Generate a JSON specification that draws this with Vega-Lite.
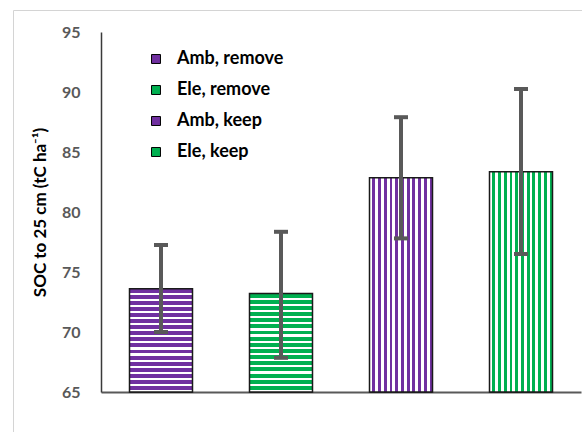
{
  "$schema": "https://vega.github.io/schema/vega-lite/v6.json",
  "width": 575,
  "height": 428,
  "autosize": "none",
  "padding": {"left": 13, "top": 10, "right": -6, "bottom": -6},
  "background": "#ffffff",
  "config": {
    "view": {"stroke": "#d4d4d4", "strokeWidth": 1},
    "font": "Lato"
  },
  "data": {
    "values": [
      {"group": "Amb, remove", "soc": 73.6, "lo": 70.0, "hi": 77.25},
      {"group": "Ele, remove", "soc": 73.2, "lo": 67.85, "hi": 78.35},
      {"group": "Amb, keep", "soc": 82.85, "lo": 77.8, "hi": 87.9},
      {"group": "Ele, keep", "soc": 83.35, "lo": 76.5, "hi": 90.25}
    ]
  },
  "encoding": {
    "x": {
      "field": "group",
      "type": "nominal",
      "sort": ["Amb, remove", "Ele, remove", "Amb, keep", "Ele, keep"],
      "scale": {"range": [88, 568], "paddingInner": 0.475, "paddingOuter": 0.2375},
      "axis": {
        "title": null,
        "labels": false,
        "ticks": false,
        "offset": -46,
        "domainColor": "#595959",
        "domainWidth": 2
      }
    }
  },
  "layer": [
    {
      "mark": {"type": "bar", "stroke": "#000000", "strokeWidth": 1},
      "encoding": {
        "y": {
          "field": "soc",
          "type": "quantitative",
          "scale": {"domain": [65, 95], "range": [382, 22], "nice": false, "zero": false},
          "axis": {
            "title": "SOC to 25 cm (tC ha⁻¹)",
            "titleFont": "Lato",
            "titleFontSize": 17,
            "titleFontWeight": "bold",
            "titleColor": "#000000",
            "titleX": -61,
            "titleY": 202,
            "titleAngle": -90,
            "titleAlign": "center",
            "titleBaseline": "middle",
            "offset": -88,
            "values": [65, 70, 75, 80, 85, 90, 95],
            "grid": false,
            "ticks": false,
            "tickSize": 0,
            "labelPadding": 21,
            "labelFont": "Lato",
            "labelFontSize": 16,
            "labelFontWeight": "bold",
            "labelColor": "#595959",
            "domainColor": "#3a3a3a",
            "domainWidth": 1.5
          }
        },
        "y2": {"datum": 65},
        "color": {
          "field": "group",
          "type": "nominal",
          "sort": ["Amb, remove", "Ele, remove", "Amb, keep", "Ele, keep"],
          "scale": {
            "domain": ["Amb, remove", "Ele, remove", "Amb, keep", "Ele, keep"],
            "range": ["#7030a0", "#00b050", "#7030a0", "#00b050"]
          },
          "legend": {
            "title": null,
            "orient": "none",
            "legendX": 134,
            "legendY": 40,
            "padding": 0,
            "rowPadding": 13,
            "symbolType": "square",
            "symbolSize": 80,
            "symbolOpacity": 1,
            "symbolStrokeColor": "#000000",
            "symbolStrokeWidth": 1,
            "labelFont": "Lato",
            "labelFontSize": 18,
            "labelFontWeight": "bold",
            "labelColor": "#000000",
            "labelOffset": 12
          }
        }
      }
    },
    {
      "mark": {"type": "bar", "stroke": "#1a1a1a", "strokeWidth": 1.5},
      "encoding": {
        "y": {"field": "soc", "type": "quantitative"},
        "y2": {"datum": 65},
        "fill": {
          "condition": [
            {"test": "datum.group === 'Amb, remove'", "value": {"gradient": "linear", "x1": 0, "y1": 0, "x2": 0, "y2": 1, "stops": [
              {"offset": 0, "color": "#7030a0"}, {"offset": 0.0382, "color": "#7030a0"}, {"offset": 0.0382, "color": "#ffffff"}, {"offset": 0.0588, "color": "#ffffff"},
              {"offset": 0.0588, "color": "#7030a0"}, {"offset": 0.0971, "color": "#7030a0"}, {"offset": 0.0971, "color": "#ffffff"}, {"offset": 0.1176, "color": "#ffffff"},
              {"offset": 0.1176, "color": "#7030a0"}, {"offset": 0.1559, "color": "#7030a0"}, {"offset": 0.1559, "color": "#ffffff"}, {"offset": 0.1765, "color": "#ffffff"},
              {"offset": 0.1765, "color": "#7030a0"}, {"offset": 0.2147, "color": "#7030a0"}, {"offset": 0.2147, "color": "#ffffff"}, {"offset": 0.2353, "color": "#ffffff"},
              {"offset": 0.2353, "color": "#7030a0"}, {"offset": 0.2735, "color": "#7030a0"}, {"offset": 0.2735, "color": "#ffffff"}, {"offset": 0.2941, "color": "#ffffff"},
              {"offset": 0.2941, "color": "#7030a0"}, {"offset": 0.3324, "color": "#7030a0"}, {"offset": 0.3324, "color": "#ffffff"}, {"offset": 0.3529, "color": "#ffffff"},
              {"offset": 0.3529, "color": "#7030a0"}, {"offset": 0.3912, "color": "#7030a0"}, {"offset": 0.3912, "color": "#ffffff"}, {"offset": 0.4118, "color": "#ffffff"},
              {"offset": 0.4118, "color": "#7030a0"}, {"offset": 0.45, "color": "#7030a0"}, {"offset": 0.45, "color": "#ffffff"}, {"offset": 0.4706, "color": "#ffffff"},
              {"offset": 0.4706, "color": "#7030a0"}, {"offset": 0.5088, "color": "#7030a0"}, {"offset": 0.5088, "color": "#ffffff"}, {"offset": 0.5294, "color": "#ffffff"},
              {"offset": 0.5294, "color": "#7030a0"}, {"offset": 0.5676, "color": "#7030a0"}, {"offset": 0.5676, "color": "#ffffff"}, {"offset": 0.5882, "color": "#ffffff"},
              {"offset": 0.5882, "color": "#7030a0"}, {"offset": 0.6265, "color": "#7030a0"}, {"offset": 0.6265, "color": "#ffffff"}, {"offset": 0.6471, "color": "#ffffff"},
              {"offset": 0.6471, "color": "#7030a0"}, {"offset": 0.6853, "color": "#7030a0"}, {"offset": 0.6853, "color": "#ffffff"}, {"offset": 0.7059, "color": "#ffffff"},
              {"offset": 0.7059, "color": "#7030a0"}, {"offset": 0.7441, "color": "#7030a0"}, {"offset": 0.7441, "color": "#ffffff"}, {"offset": 0.7647, "color": "#ffffff"},
              {"offset": 0.7647, "color": "#7030a0"}, {"offset": 0.8029, "color": "#7030a0"}, {"offset": 0.8029, "color": "#ffffff"}, {"offset": 0.8235, "color": "#ffffff"},
              {"offset": 0.8235, "color": "#7030a0"}, {"offset": 0.8618, "color": "#7030a0"}, {"offset": 0.8618, "color": "#ffffff"}, {"offset": 0.8824, "color": "#ffffff"},
              {"offset": 0.8824, "color": "#7030a0"}, {"offset": 0.9206, "color": "#7030a0"}, {"offset": 0.9206, "color": "#ffffff"}, {"offset": 0.9412, "color": "#ffffff"},
              {"offset": 0.9412, "color": "#7030a0"}, {"offset": 0.9794, "color": "#7030a0"}, {"offset": 0.9794, "color": "#ffffff"}, {"offset": 1, "color": "#ffffff"}]}},
            {"test": "datum.group === 'Ele, remove'", "value": {"gradient": "linear", "x1": 0, "y1": 0, "x2": 0, "y2": 1, "stops": [
              {"offset": 0, "color": "#00b050"}, {"offset": 0.0406, "color": "#00b050"}, {"offset": 0.0406, "color": "#ffffff"}, {"offset": 0.0625, "color": "#ffffff"},
              {"offset": 0.0625, "color": "#00b050"}, {"offset": 0.1031, "color": "#00b050"}, {"offset": 0.1031, "color": "#ffffff"}, {"offset": 0.125, "color": "#ffffff"},
              {"offset": 0.125, "color": "#00b050"}, {"offset": 0.1656, "color": "#00b050"}, {"offset": 0.1656, "color": "#ffffff"}, {"offset": 0.1875, "color": "#ffffff"},
              {"offset": 0.1875, "color": "#00b050"}, {"offset": 0.2281, "color": "#00b050"}, {"offset": 0.2281, "color": "#ffffff"}, {"offset": 0.25, "color": "#ffffff"},
              {"offset": 0.25, "color": "#00b050"}, {"offset": 0.2906, "color": "#00b050"}, {"offset": 0.2906, "color": "#ffffff"}, {"offset": 0.3125, "color": "#ffffff"},
              {"offset": 0.3125, "color": "#00b050"}, {"offset": 0.3531, "color": "#00b050"}, {"offset": 0.3531, "color": "#ffffff"}, {"offset": 0.375, "color": "#ffffff"},
              {"offset": 0.375, "color": "#00b050"}, {"offset": 0.4156, "color": "#00b050"}, {"offset": 0.4156, "color": "#ffffff"}, {"offset": 0.4375, "color": "#ffffff"},
              {"offset": 0.4375, "color": "#00b050"}, {"offset": 0.4781, "color": "#00b050"}, {"offset": 0.4781, "color": "#ffffff"}, {"offset": 0.5, "color": "#ffffff"},
              {"offset": 0.5, "color": "#00b050"}, {"offset": 0.5406, "color": "#00b050"}, {"offset": 0.5406, "color": "#ffffff"}, {"offset": 0.5625, "color": "#ffffff"},
              {"offset": 0.5625, "color": "#00b050"}, {"offset": 0.6031, "color": "#00b050"}, {"offset": 0.6031, "color": "#ffffff"}, {"offset": 0.625, "color": "#ffffff"},
              {"offset": 0.625, "color": "#00b050"}, {"offset": 0.6656, "color": "#00b050"}, {"offset": 0.6656, "color": "#ffffff"}, {"offset": 0.6875, "color": "#ffffff"},
              {"offset": 0.6875, "color": "#00b050"}, {"offset": 0.7281, "color": "#00b050"}, {"offset": 0.7281, "color": "#ffffff"}, {"offset": 0.75, "color": "#ffffff"},
              {"offset": 0.75, "color": "#00b050"}, {"offset": 0.7906, "color": "#00b050"}, {"offset": 0.7906, "color": "#ffffff"}, {"offset": 0.8125, "color": "#ffffff"},
              {"offset": 0.8125, "color": "#00b050"}, {"offset": 0.8531, "color": "#00b050"}, {"offset": 0.8531, "color": "#ffffff"}, {"offset": 0.875, "color": "#ffffff"},
              {"offset": 0.875, "color": "#00b050"}, {"offset": 0.9156, "color": "#00b050"}, {"offset": 0.9156, "color": "#ffffff"}, {"offset": 0.9375, "color": "#ffffff"},
              {"offset": 0.9375, "color": "#00b050"}, {"offset": 0.9781, "color": "#00b050"}, {"offset": 0.9781, "color": "#ffffff"}, {"offset": 1, "color": "#ffffff"}]}},
            {"test": "datum.group === 'Amb, keep'", "value": {"gradient": "linear", "x1": 0, "y1": 0, "x2": 1, "y2": 0, "stops": [
              {"offset": 0, "color": "#ffffff"}, {"offset": 0.0455, "color": "#ffffff"}, {"offset": 0.0455, "color": "#7030a0"}, {"offset": 0.0909, "color": "#7030a0"},
              {"offset": 0.0909, "color": "#ffffff"}, {"offset": 0.1364, "color": "#ffffff"}, {"offset": 0.1364, "color": "#7030a0"}, {"offset": 0.1818, "color": "#7030a0"},
              {"offset": 0.1818, "color": "#ffffff"}, {"offset": 0.2273, "color": "#ffffff"}, {"offset": 0.2273, "color": "#7030a0"}, {"offset": 0.2727, "color": "#7030a0"},
              {"offset": 0.2727, "color": "#ffffff"}, {"offset": 0.3182, "color": "#ffffff"}, {"offset": 0.3182, "color": "#7030a0"}, {"offset": 0.3636, "color": "#7030a0"},
              {"offset": 0.3636, "color": "#ffffff"}, {"offset": 0.4091, "color": "#ffffff"}, {"offset": 0.4091, "color": "#7030a0"}, {"offset": 0.4545, "color": "#7030a0"},
              {"offset": 0.4545, "color": "#ffffff"}, {"offset": 0.5, "color": "#ffffff"}, {"offset": 0.5, "color": "#7030a0"}, {"offset": 0.5455, "color": "#7030a0"},
              {"offset": 0.5455, "color": "#ffffff"}, {"offset": 0.5909, "color": "#ffffff"}, {"offset": 0.5909, "color": "#7030a0"}, {"offset": 0.6364, "color": "#7030a0"},
              {"offset": 0.6364, "color": "#ffffff"}, {"offset": 0.6818, "color": "#ffffff"}, {"offset": 0.6818, "color": "#7030a0"}, {"offset": 0.7273, "color": "#7030a0"},
              {"offset": 0.7273, "color": "#ffffff"}, {"offset": 0.7727, "color": "#ffffff"}, {"offset": 0.7727, "color": "#7030a0"}, {"offset": 0.8182, "color": "#7030a0"},
              {"offset": 0.8182, "color": "#ffffff"}, {"offset": 0.8636, "color": "#ffffff"}, {"offset": 0.8636, "color": "#7030a0"}, {"offset": 0.9091, "color": "#7030a0"},
              {"offset": 0.9091, "color": "#ffffff"}, {"offset": 0.9545, "color": "#ffffff"}, {"offset": 0.9545, "color": "#7030a0"}, {"offset": 1, "color": "#7030a0"}]}}
          ],
          "value": {"gradient": "linear", "x1": 0, "y1": 0, "x2": 1, "y2": 0, "stops": [
            {"offset": 0, "color": "#ffffff"}, {"offset": 0.0455, "color": "#ffffff"}, {"offset": 0.0455, "color": "#00b050"}, {"offset": 0.0909, "color": "#00b050"},
            {"offset": 0.0909, "color": "#ffffff"}, {"offset": 0.1364, "color": "#ffffff"}, {"offset": 0.1364, "color": "#00b050"}, {"offset": 0.1818, "color": "#00b050"},
            {"offset": 0.1818, "color": "#ffffff"}, {"offset": 0.2273, "color": "#ffffff"}, {"offset": 0.2273, "color": "#00b050"}, {"offset": 0.2727, "color": "#00b050"},
            {"offset": 0.2727, "color": "#ffffff"}, {"offset": 0.3182, "color": "#ffffff"}, {"offset": 0.3182, "color": "#00b050"}, {"offset": 0.3636, "color": "#00b050"},
            {"offset": 0.3636, "color": "#ffffff"}, {"offset": 0.4091, "color": "#ffffff"}, {"offset": 0.4091, "color": "#00b050"}, {"offset": 0.4545, "color": "#00b050"},
            {"offset": 0.4545, "color": "#ffffff"}, {"offset": 0.5, "color": "#ffffff"}, {"offset": 0.5, "color": "#00b050"}, {"offset": 0.5455, "color": "#00b050"},
            {"offset": 0.5455, "color": "#ffffff"}, {"offset": 0.5909, "color": "#ffffff"}, {"offset": 0.5909, "color": "#00b050"}, {"offset": 0.6364, "color": "#00b050"},
            {"offset": 0.6364, "color": "#ffffff"}, {"offset": 0.6818, "color": "#ffffff"}, {"offset": 0.6818, "color": "#00b050"}, {"offset": 0.7273, "color": "#00b050"},
            {"offset": 0.7273, "color": "#ffffff"}, {"offset": 0.7727, "color": "#ffffff"}, {"offset": 0.7727, "color": "#00b050"}, {"offset": 0.8182, "color": "#00b050"},
            {"offset": 0.8182, "color": "#ffffff"}, {"offset": 0.8636, "color": "#ffffff"}, {"offset": 0.8636, "color": "#00b050"}, {"offset": 0.9091, "color": "#00b050"},
            {"offset": 0.9091, "color": "#ffffff"}, {"offset": 0.9545, "color": "#ffffff"}, {"offset": 0.9545, "color": "#00b050"}, {"offset": 1, "color": "#00b050"}]}
        }
      }
    },
    {
      "mark": {"type": "rule", "color": "#595959", "strokeWidth": 4},
      "encoding": {
        "y": {"field": "lo", "type": "quantitative"},
        "y2": {"field": "hi"}
      }
    },
    {
      "mark": {"type": "tick", "color": "#595959", "size": 14, "thickness": 4, "opacity": 1},
      "encoding": {"y": {"field": "lo", "type": "quantitative"}}
    },
    {
      "mark": {"type": "tick", "color": "#595959", "size": 14, "thickness": 4, "opacity": 1},
      "encoding": {"y": {"field": "hi", "type": "quantitative"}}
    }
  ]
}
